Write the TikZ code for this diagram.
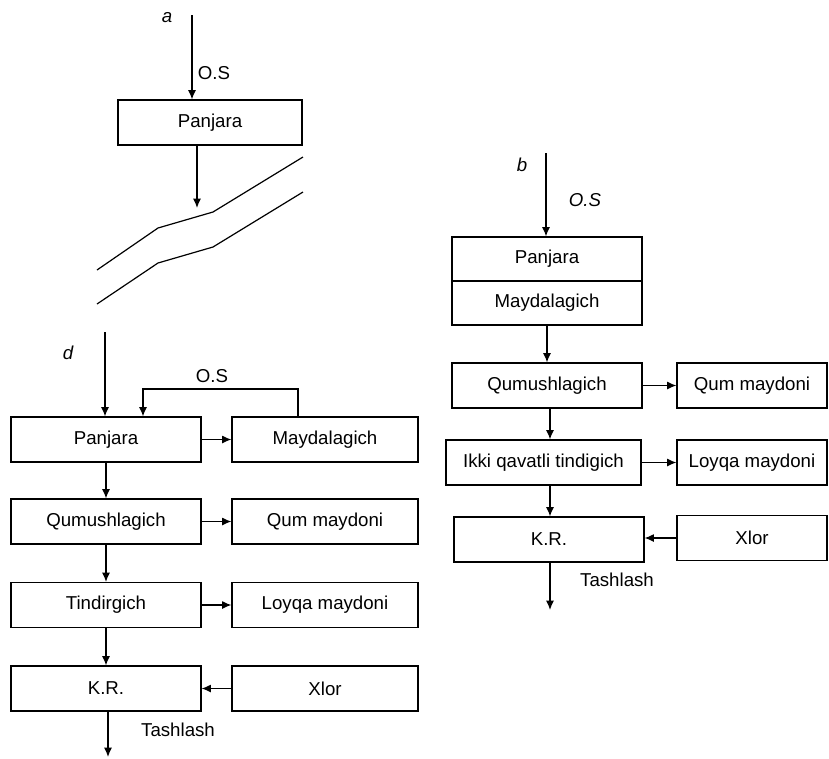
\documentclass[tikz,border=0pt]{standalone}
\usepackage{fontspec}
\setmainfont{Liberation Sans}
\usetikzlibrary{arrows.meta}
\begin{document}
\begin{tikzpicture}[x=0.75pt,y=-0.75pt,
  line width=0.9pt,
  font=\fontsize{14}{16}\selectfont,
  box/.style={draw,inner sep=0pt,minimum height=33.75pt},
  lcol/.style={box,minimum width=142.5pt},
  rcol/.style={box,minimum width=139.5pt},
  bcol/.style={box,minimum width=142.5pt},
  brcol/.style={box,minimum width=112.5pt},
  arr/.style={-{Latex[length=7pt,width=6pt]}},
  lbl/.style={inner sep=0pt,font=\fontsize{14}{16}\selectfont\itshape}]
\useasboundingbox (0,0) rectangle (829,758);

% ---------- a ----------
\node[box,minimum width=138pt] (aP) at (210,122.5) {Panjara};
\coordinate (aTop) at (192,15);
\coordinate (aEnd) at (197,208);
\node[lbl] (aL) at (167,18) {a};
\node[inner sep=0pt] (aOS) at (214,73) {O.S};
\draw[arr] (aTop) -- (aP.north -| aTop);
\draw[arr] (aP.south -| aEnd) -- (aEnd);
\draw (97,270) -- (158,228) -- (213,212) -- (303,157);
\draw (97,304) -- (158,263) -- (213,247) -- (303,192);

% ---------- d ----------
\node[lcol] (dP) at (106,439.5) {Panjara};
\node[rcol] (dM) at (325,439.5) {Maydalagich};
\node[lcol] (dQ) at (106,521.5) {Qumushlagich};
\node[rcol] (dQm) at (325,521.5) {Qum maydoni};
\node[lcol] (dT) at (106,605) {Tindirgich};
\node[rcol] (dL) at (325,605) {Loyqa maydoni};
\node[lcol] (dK) at (106,688.5) {K.R.};
\node[rcol] (dX) at (325,688.5) {Xlor};
\node[lbl] (dLb) at (68,353) {d};
\node[inner sep=0pt] (dOS) at (212,376) {O.S};
\coordinate (dTop) at (105,332);
\coordinate (fb1) at (298,389);
\coordinate (fb2) at (143,389);
\coordinate (dEnd) at (108,757);
\draw[arr] (dTop) -- (dP.north -| dTop);
\draw[arr] (dM.north -| fb1) -- (fb1) -- (fb2) -- (dP.north -| fb2);
\draw[arr] (dP.east) -- (dM.west);
\draw[arr] (dQ.east) -- (dQm.west);
\draw[arr] (dT.east) -- (dL.west);
\draw[arr] (dX.west) -- (dK.east);
\draw[arr] (dP.south) -- (dQ.north);
\draw[arr] (dQ.south) -- (dT.north);
\draw[arr] (dT.south) -- (dK.north);
\draw[arr] (dK.south -| dEnd) -- (dEnd);
\node[inner sep=0pt] (dTash) at (178,730) {Tashlash};

% ---------- b ----------
\node[bcol,minimum height=33pt] (bP) at (547,259) {Panjara};
\node[bcol,minimum height=33pt] (bM) at (547,303) {Maydalagich};
\node[bcol] (bQ) at (547,385.5) {Qumushlagich};
\node[brcol] (bQm) at (752,385.5) {Qum maydoni};
\node[box,minimum width=146.25pt] (bI) at (543.5,462.5) {Ikki qavatli tindigich};
\node[brcol] (bL) at (752,462.5) {Loyqa maydoni};
\node[bcol] (bK) at (549,539.5) {K.R.};
\node[brcol] (bX) at (752,538) {Xlor};
\node[lbl] (bLb) at (522,165) {b};
\node[lbl] (bOS) at (585,200) {O.S};
\coordinate (bTop) at (546,153);
\coordinate (bEnd) at (550,610);
\draw[arr] (bTop) -- (bP.north -| bTop);
\draw[arr] (bM.south) -- (bQ.north);
\draw[arr] (bQ.east) -- (bQm.west);
\draw[arr] (bQ.south -| bEnd) -- (bI.north -| bEnd);
\draw[arr] (bI.east) -- (bL.west);
\draw[arr] (bI.south -| bEnd) -- (bK.north -| bEnd);
\draw[arr] (bX.west) -- (bX.west -| bK.east);
\draw[arr] (bK.south -| bEnd) -- (bEnd);
\node[inner sep=0pt] (bTash) at (617,580) {Tashlash};
\end{tikzpicture}
\end{document}
